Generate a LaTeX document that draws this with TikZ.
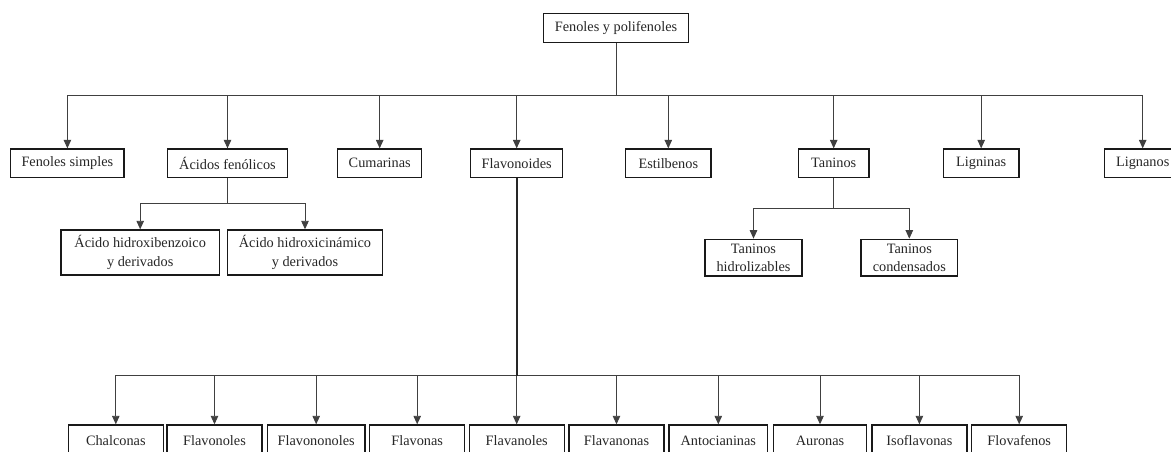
\documentclass[tikz,border=0pt]{standalone}
\usepackage{fontspec}
\setmainfont{Liberation Serif}
\usetikzlibrary{arrows.meta}
\begin{document}
\begin{tikzpicture}[x=1pt,y=-1pt,
  box/.style={draw=black!90, line width=1.4pt, inner sep=0pt, align=center,
    font=\fontsize{14.3}{18.5}\selectfont, text=black!85},
  lvl/.style={box, minimum height=28.3pt},
  bot/.style={box, minimum width=95pt, minimum height=32pt},
  conn/.style={draw=black!75, line width=0.9pt},
  arr/.style={conn, -{Triangle[width=7.5pt,length=8.5pt]}}]
\path[use as bounding box, clip] (0,0) rectangle (1171,451);
\fill[white] (0,0) rectangle (1171,451);

% bus levels
\coordinate (b0) at (0,95.7);
\coordinate (b1) at (0,203.3);
\coordinate (b2) at (0,208.3);
\coordinate (b3) at (0,375.7);

% root
\node[box, minimum width=145.4pt, minimum height=29.4pt] (top) at (616,28) {Fenoles y polifenoles};

% level 1
\node[lvl, minimum width=113.3pt] (fs) at (67.4,163.2) {Fenoles simples};
\node[lvl, minimum width=119.6pt] (af) at (227.5,163.2) {Ácidos fenólicos};
\node[lvl, minimum width=84pt]    (cu) at (379.7,163.2) {Cumarinas};
\node[lvl, minimum width=92pt]    (fl) at (516.7,163.2) {Flavonoides};
\node[lvl, minimum width=85.4pt]  (es) at (668.3,163.2) {Estilbenos};
\node[lvl, minimum width=70.7pt]  (ta) at (833.7,163.2) {Taninos};
\node[lvl, minimum width=75.7pt]  (lg) at (981.2,163.2) {Ligninas};
\node[lvl, minimum width=76pt]    (ln) at (1142.7,163.2) {Lignanos};

% acids children
\node[box, minimum width=158.3pt, minimum height=45pt] (ah1) at (140.2,252.5) {Ácido hidroxibenzoico\\y derivados};
\node[box, minimum width=154.6pt, minimum height=45pt] (ah2) at (305,252.5) {Ácido hidroxicinámico\\y derivados};

% tannin children
\node[box, minimum width=97pt, minimum height=36.7pt] (th) at (753.5,257.7) {Taninos\\hidrolizables};
\node[box, minimum width=96.7pt, minimum height=36.7pt] (tc) at (909.3,257.7) {Taninos\\condensados};

% flavonoid children
\node[bot] (c1) at (115.8,441) {Chalconas};
\node[bot] (c2) at (214.5,441) {Flavonoles};
\node[bot, minimum width=97.7pt] (c3) at (316.2,441) {Flavononoles};
\node[bot] (c4) at (417.2,441) {Flavonas};
\node[bot] (c5) at (516.7,441) {Flavanoles};
\node[bot] (c6) at (616.5,441) {Flavanonas};
\node[bot, minimum width=98.7pt] (c7) at (718.3,441) {Antocianinas};
\node[bot, minimum width=93.4pt] (c8) at (820,441) {Auronas};
\node[bot] (c9) at (919.4,441) {Isoflavonas};
\node[bot] (c10) at (1019.2,441) {Flovafenos};

% root connectors
\foreach \c in {fs,af,cu,fl,es,ta,lg,ln}
  \draw[arr] (top.south) -- (top.south |- b0) -| (\c.north);

% acids connectors
\foreach \c in {ah1,ah2}
  \draw[arr] (af.south) -- (af.south |- b1) -| (\c.north);

% tannin connectors
\foreach \c in {th,tc}
  \draw[arr] (ta.south) -- (ta.south |- b2) -| (\c.north);

% flavonoid connectors
\foreach \c in {c1,c2,c3,c4,c5,c6,c7,c8,c9,c10}
  \draw[arr] (fl.south) -- (fl.south |- b3) -| (\c.north);
\draw[conn, line width=1.6pt, draw=black!85] (fl.south) -- (fl.south |- b3);
\end{tikzpicture}
\end{document}
